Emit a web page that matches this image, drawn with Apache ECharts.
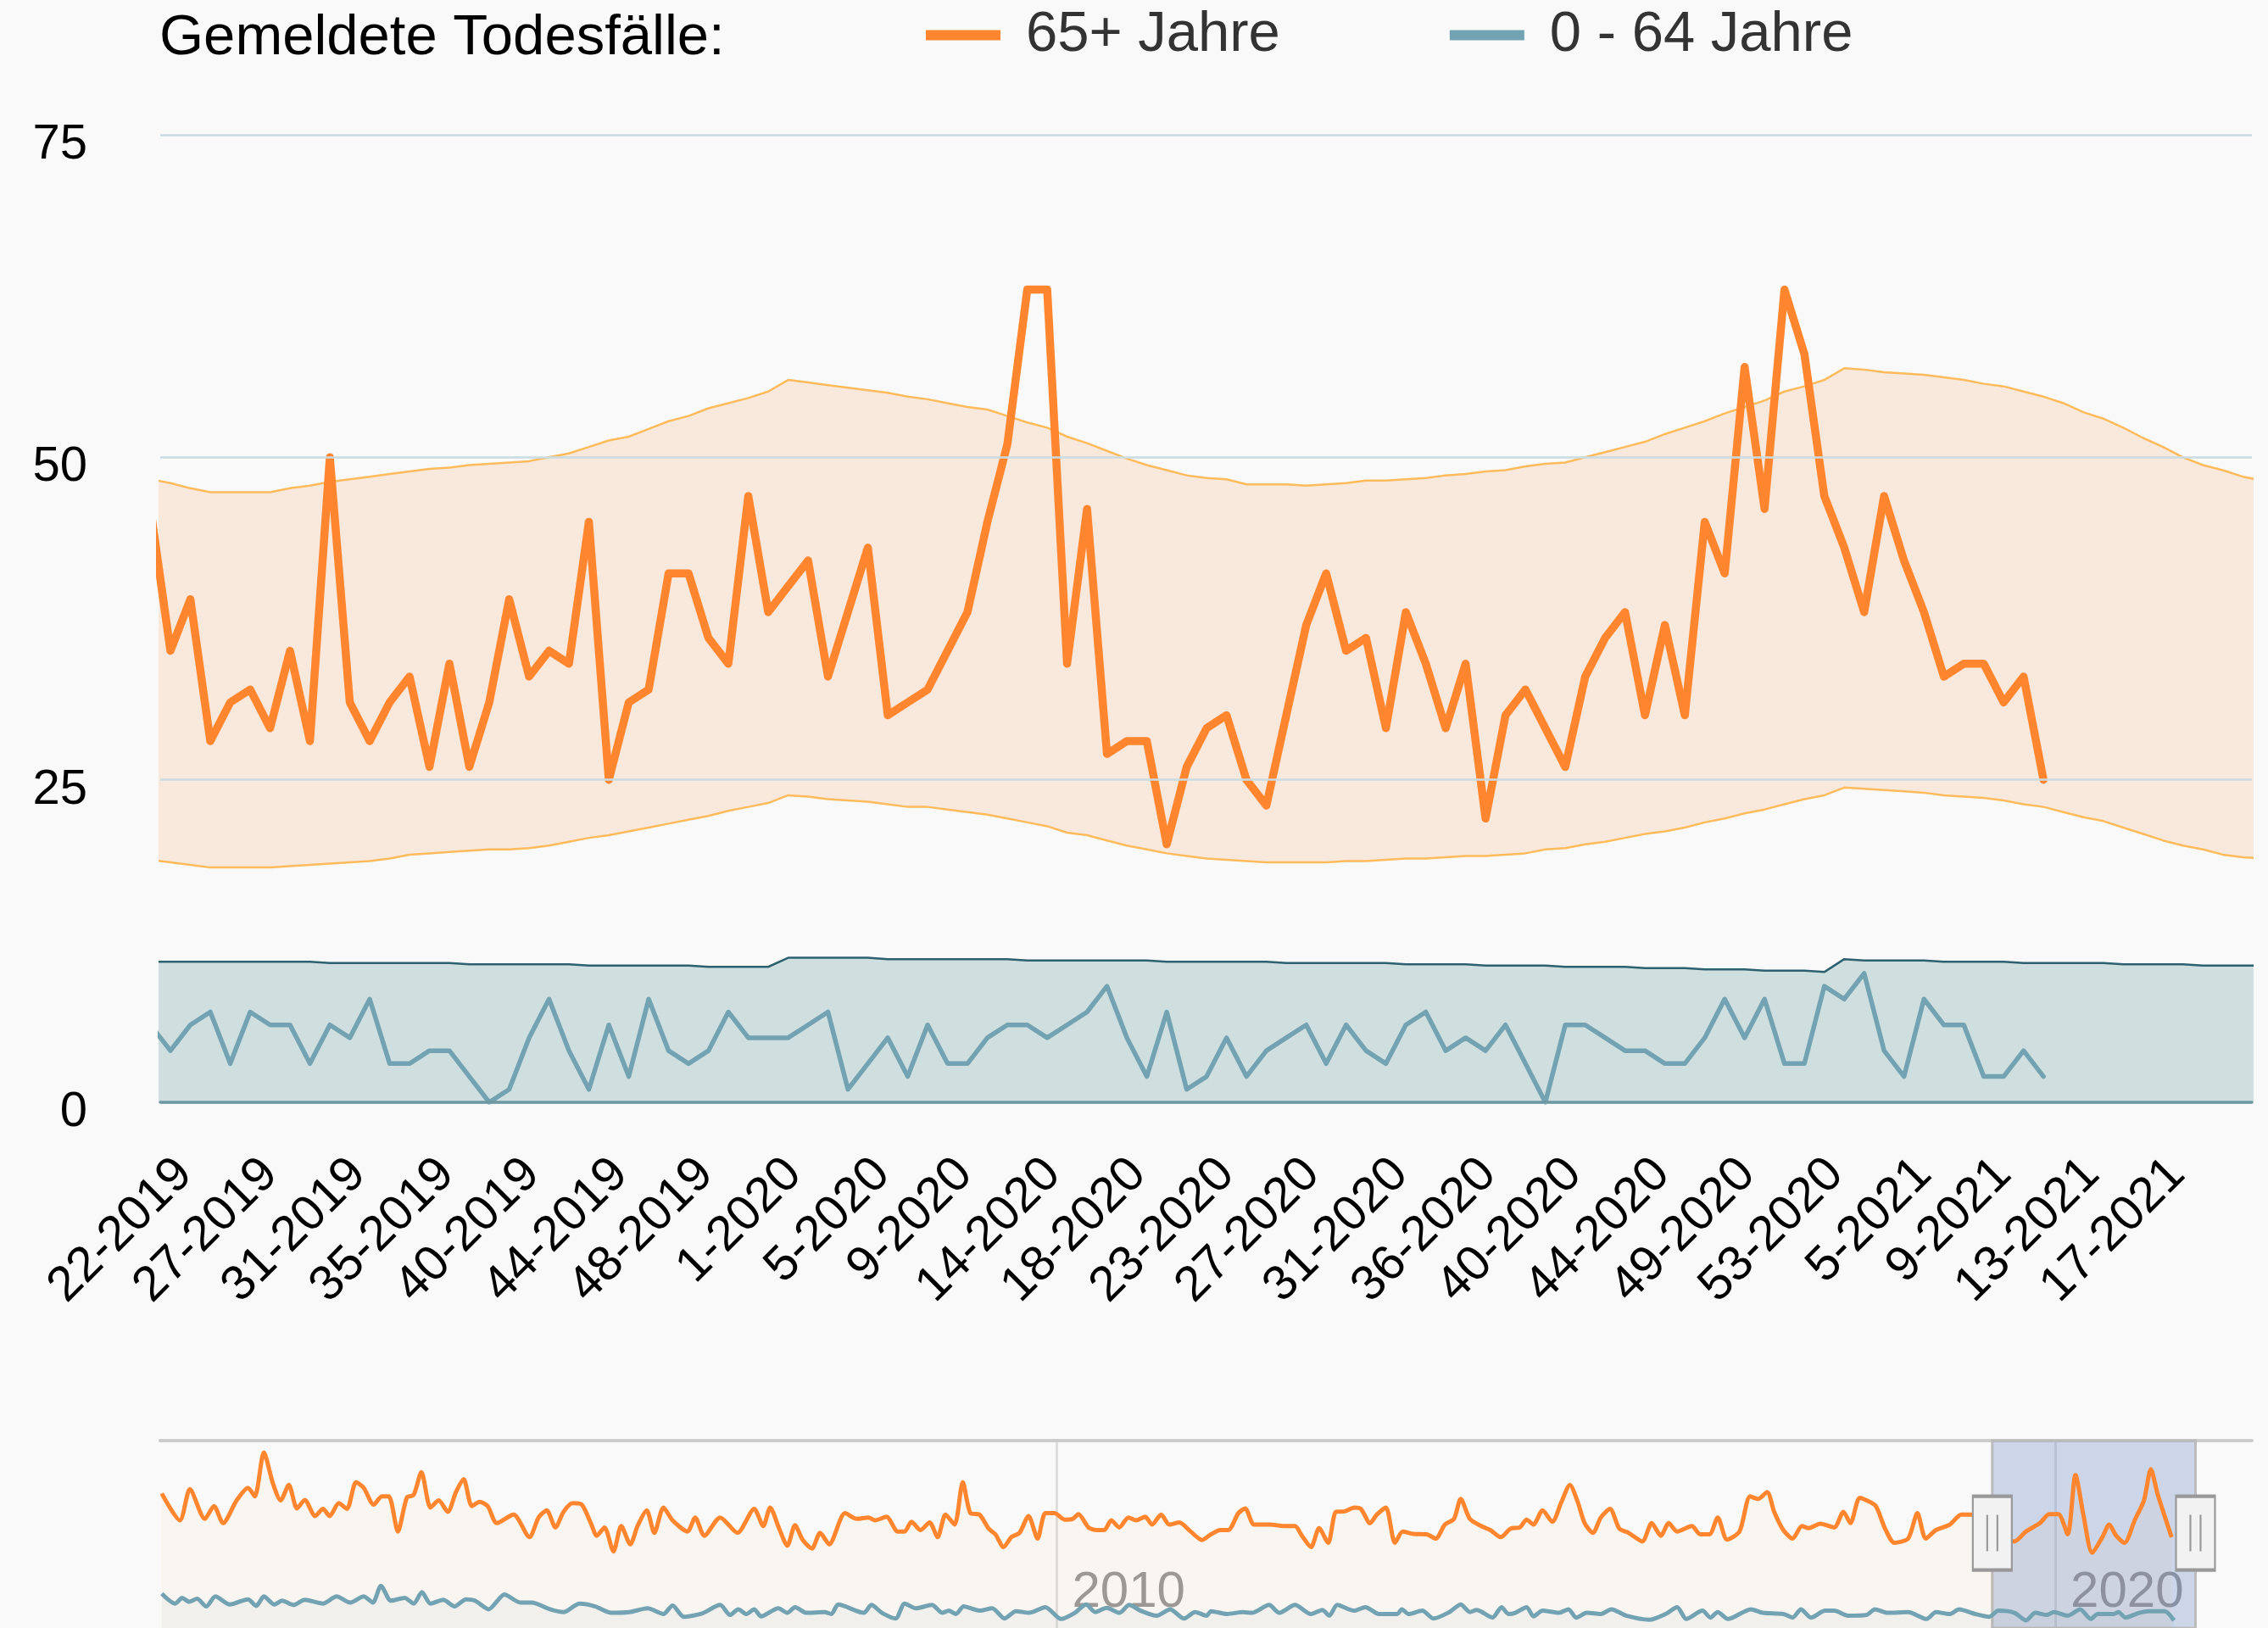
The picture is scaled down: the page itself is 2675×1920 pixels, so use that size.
<!DOCTYPE html>
<html>
<head>
<meta charset="utf-8">
<title>Gemeldete Todesfälle</title>
<script src="https://cdn.jsdelivr.net/npm/echarts@6.0.0/dist/echarts.min.js"></script>
<style>
  html, body { margin: 0; padding: 0; background: #f9f9f9; }
  #chart { width: 2675px; height: 1920px; }
</style>
</head>
<body>
<div id="chart"></div>
<script>
// weekly values, first entry is KW 21-2019 (Monday 2019-05-20)
const firstMonday = [2019, 4, 20]

const deaths65 = [
  46, 35, 39, 28, 31, 32, 29, 35, 28, 50, 31, 28, 31, 33, 26, 34, 26, 31, 39, 33,
  35, 34, 45, 25, 31, 32, 41, 41, 36, 34, 47, 38,
  40, 42, 33, 38, 43, 30, 31, 32, 35, 38, 45, 51, 63, 63, 34, 46, 27, 28, 28, 20,
  26, 29, 30, 25, 23, 30, 37, 41, 35, 36, 29, 38, 34, 29, 34, 22, 30, 32, 29, 26,
  33, 36, 38, 30, 37, 30, 45, 41, 57, 46, 63, 58, 47,
  43, 38, 47, 42, 38, 33, 34, 34, 31, 33, 25
]
const deaths064 = [
  6, 4, 6, 7, 3, 7, 6, 6, 3, 6, 5, 8, 3, 3, 4, 4, 2, 0, 1, 5,
  8, 4, 1, 6, 2, 8, 4, 3, 4, 7, 5, 5,
  5, 6, 7, 1, 3, 5, 2, 6, 3, 3, 5, 6, 6, 5, 6, 7, 9, 5, 2, 7,
  1, 2, 5, 2, 4, 5, 6, 3, 6, 4, 3, 6, 7, 4, 5, 4, 6, 3, 0, 6,
  6, 5, 4, 4, 3, 3, 5, 8, 5, 8, 3, 3, 9,
  8, 10, 4, 2, 8, 6, 6, 2, 2, 4, 2
]

// expected range, KW 21-2019 .. KW 22-2021
const band65Upper = [
  48.3, 48.0, 47.6, 47.3, 47.3, 47.3, 47.3, 47.6, 47.8, 48.1,
  48.3, 48.5, 48.7, 48.9, 49.1, 49.2, 49.4, 49.5, 49.6, 49.7,
  50.0, 50.3, 50.8, 51.3, 51.6, 52.2, 52.8, 53.2, 53.8, 54.2, 54.6, 55.1,
  56.0, 55.8, 55.6, 55.4, 55.2, 55.0, 54.7, 54.5, 54.2, 53.9,
  53.7, 53.2, 52.7, 52.3, 51.6, 51.1, 50.5, 49.9, 49.4, 49.0,
  48.6, 48.4, 48.3, 47.9, 47.9, 47.9, 47.8, 47.9, 48.0, 48.2,
  48.2, 48.3, 48.4, 48.6, 48.7, 48.9, 49.0, 49.3, 49.5, 49.6,
  50.0, 50.4, 50.8, 51.2, 51.8, 52.3, 52.8, 53.4, 53.9, 54.4, 55.1, 55.5, 56.0,
  56.9, 56.8, 56.6, 56.5, 56.4, 56.2, 56.0, 55.7, 55.5, 55.1,
  54.7, 54.2, 53.5, 53.0, 52.3, 51.5, 50.8, 50.0, 49.4, 49.0, 48.5, 48.2
]
const band65Lower = [
  18.8, 18.6, 18.4, 18.2, 18.2, 18.2, 18.2, 18.3, 18.4, 18.5,
  18.6, 18.7, 18.9, 19.2, 19.3, 19.4, 19.5, 19.6, 19.6, 19.7,
  19.9, 20.2, 20.5, 20.7, 21.0, 21.3, 21.6, 21.9, 22.2, 22.6, 22.9, 23.2,
  23.8, 23.7, 23.5, 23.4, 23.3, 23.1, 22.9, 22.9, 22.7, 22.5,
  22.3, 22.0, 21.7, 21.4, 20.9, 20.7, 20.3, 19.9, 19.6, 19.3,
  19.1, 18.9, 18.8, 18.7, 18.6, 18.6, 18.6, 18.6, 18.7, 18.7,
  18.8, 18.9, 18.9, 19.0, 19.1, 19.1, 19.2, 19.3, 19.6, 19.7,
  20.0, 20.2, 20.5, 20.8, 21.0, 21.3, 21.7, 22.0, 22.4, 22.7, 23.1, 23.5, 23.8,
  24.4, 24.3, 24.2, 24.1, 24.0, 23.8, 23.7, 23.6, 23.4, 23.1,
  22.9, 22.5, 22.1, 21.8, 21.3, 20.8, 20.3, 19.9, 19.6, 19.2, 19.0, 18.9
]
const band064Upper = [
  10.9, 10.9, 10.9, 10.9, 10.9, 10.9, 10.9, 10.9, 10.9,
  10.8, 10.8, 10.8, 10.8, 10.8, 10.8, 10.8,
  10.7, 10.7, 10.7, 10.7, 10.7, 10.7,
  10.6, 10.6, 10.6, 10.6, 10.6, 10.6,
  10.5, 10.5, 10.5, 10.5,
  11.2, 11.2, 11.2, 11.2, 11.2,
  11.1, 11.1, 11.1, 11.1, 11.1, 11.1, 11.1,
  11.0, 11.0, 11.0, 11.0, 11.0, 11.0, 11.0,
  10.9, 10.9, 10.9, 10.9, 10.9, 10.9,
  10.8, 10.8, 10.8, 10.8, 10.8, 10.8,
  10.7, 10.7, 10.7, 10.7,
  10.6, 10.6, 10.6, 10.6,
  10.5, 10.5, 10.5, 10.5,
  10.4, 10.4, 10.4,
  10.3, 10.3, 10.3,
  10.2, 10.2, 10.2,
  10.1,
  11.1, 11.0, 11.0, 11.0, 11.0,
  10.9, 10.9, 10.9, 10.9,
  10.8, 10.8, 10.8, 10.8, 10.8,
  10.7, 10.7, 10.7, 10.7,
  10.6, 10.6, 10.6, 10.6
]

// month starts used as axis ticks (label = KW-Jahr of that day)
const monthTicks = [
  '2019-06', '2019-07', '2019-08', '2019-09', '2019-10', '2019-11', '2019-12',
  '2020-01', '2020-02', '2020-03', '2020-04', '2020-05', '2020-06', '2020-07',
  '2020-08', '2020-09', '2020-10', '2020-11', '2020-12',
  '2021-01', '2021-02', '2021-03', '2021-04', '2021-05'
]

// overview strip at the bottom: [year, value]
const nav65 = [
  [2001.035, 54.7], [2001.217, 43.4], [2001.317, 56.5], [2001.467, 44.0], [2001.558, 49.4], [2001.649, 42.2],
  [2001.785, 51.8], [2001.899, 57.1], [2001.967, 53.5], [2002.058, 72.0], [2002.149, 58.9], [2002.226, 51.8],
  [2002.308, 58.3], [2002.39, 48.4], [2002.467, 52.0], [2002.572, 45.2], [2002.649, 48.2], [2002.717, 45.2],
  [2002.808, 50.6], [2002.89, 48.2], [2002.981, 59.5], [2003.058, 57.1], [2003.158, 50.0], [2003.24, 53.5],
  [2003.309, 53.5], [2003.4, 38.7], [2003.49, 53.0], [2003.558, 54.1], [2003.636, 63.7], [2003.727, 48.8],
  [2003.809, 51.8], [2003.9, 47.0], [2003.982, 55.3], [2004.059, 60.7], [2004.141, 49.4], [2004.218, 51.2],
  [2004.3, 49.4], [2004.391, 42.2], [2004.559, 45.8], [2004.718, 36.3], [2004.81, 44.6], [2004.891, 47.6],
  [2004.978, 40.4], [2005.06, 47.0], [2005.15, 50.6], [2005.242, 50.0], [2005.333, 42.2], [2005.392, 36.9],
  [2005.469, 40.4], [2005.56, 30.3], [2005.637, 41.0], [2005.728, 33.3], [2005.801, 41.0], [2005.892, 47.6],
  [2005.969, 38.1], [2006.06, 48.8], [2006.151, 43.4], [2006.301, 38.7], [2006.378, 44.6], [2006.469, 36.9],
  [2006.628, 44.6], [2006.801, 38.1], [2006.969, 48.2], [2007.06, 41.0], [2007.129, 48.8], [2007.219, 39.9],
  [2007.301, 32.7], [2007.378, 41.3], [2007.456, 35.1], [2007.547, 31.5], [2007.629, 38.1], [2007.72, 33.3],
  [2007.879, 46.4], [2007.998, 44.0], [2008.112, 44.6], [2008.18, 43.4], [2008.294, 44.9], [2008.407, 38.7],
  [2008.476, 38.7], [2008.544, 42.8], [2008.635, 39.3], [2008.726, 42.5], [2008.807, 36.3], [2008.885, 45.8],
  [2008.976, 41.6], [2009.058, 59.5], [2009.135, 46.4], [2009.226, 45.8], [2009.317, 39.9], [2009.385, 37.5],
  [2009.467, 32.1], [2009.544, 36.3], [2009.626, 38.1], [2009.717, 45.2], [2009.808, 35.7], [2009.885, 46.4],
  [2009.976, 46.4], [2010.08, 43.7], [2010.158, 44.0], [2010.217, 46.0], [2010.317, 40.4], [2010.399, 39.3],
  [2010.476, 39.3], [2010.545, 43.4], [2010.626, 40.4], [2010.717, 44.6], [2010.795, 43.4], [2010.886, 44.9],
  [2010.954, 41.6], [2011.045, 45.8], [2011.127, 41.6], [2011.227, 42.5], [2011.34, 38.7], [2011.454, 35.1],
  [2011.545, 37.5], [2011.636, 39.3], [2011.718, 39.3], [2011.818, 46.4], [2011.886, 48.4], [2011.977, 41.6],
  [2012.136, 41.6], [2012.273, 41.0], [2012.386, 41.0], [2012.455, 36.9], [2012.546, 32.1], [2012.627, 40.1],
  [2012.718, 33.9], [2012.796, 47.0], [2012.887, 47.2], [2012.978, 48.8], [2013.046, 48.2], [2013.137, 42.2],
  [2013.205, 45.8], [2013.296, 48.8], [2013.387, 33.9], [2013.464, 38.7], [2013.569, 37.7], [2013.705, 37.5],
  [2013.796, 35.7], [2013.887, 41.6], [2013.978, 44.0], [2014.046, 52.4], [2014.137, 44.0], [2014.25, 41.0],
  [2014.342, 39.3], [2014.446, 36.3], [2014.546, 39.9], [2014.637, 40.4], [2014.705, 43.7], [2014.774, 41.6],
  [2014.865, 47.6], [2014.963, 42.8], [2015.055, 51.2], [2015.139, 58.3], [2015.217, 51.2], [2015.287, 42.2],
  [2015.37, 38.1], [2015.449, 44.6], [2015.541, 48.2], [2015.634, 39.9], [2015.727, 38.1], [2015.865, 34.5],
  [2015.958, 42.2], [2016.05, 36.9], [2016.129, 42.2], [2016.213, 38.7], [2016.361, 41.0], [2016.444, 37.5],
  [2016.537, 37.5], [2016.62, 44.6], [2016.713, 35.3], [2016.838, 38.7], [2016.944, 53.5], [2017.023, 52.4],
  [2017.115, 55.3], [2017.185, 47.0], [2017.277, 39.3], [2017.37, 35.7], [2017.463, 41.0], [2017.532, 40.1],
  [2017.648, 42.0], [2017.787, 40.4], [2017.879, 47.0], [2017.949, 42.2], [2018.041, 52.9], [2018.111, 51.8],
  [2018.203, 49.4], [2018.296, 39.9], [2018.389, 33.9], [2018.527, 35.7], [2018.62, 46.4], [2018.703, 35.7],
  [2018.805, 39.3], [2018.944, 41.6], [2019.06, 45.8], [2019.153, 45.8], [2019.38, 40.0], [2019.592, 34.5],
  [2019.708, 38.7], [2019.847, 42.2], [2019.94, 46.0], [2020.032, 46.0], [2020.125, 37.5], [2020.203, 62.5],
  [2020.287, 44.6], [2020.37, 29.7], [2020.472, 36.3], [2020.541, 41.6], [2020.611, 36.9], [2020.694, 33.9],
  [2020.796, 43.4], [2020.889, 51.8], [2020.958, 64.9], [2021.028, 54.1], [2021.166, 36.3]
]
const nav064 = [
  [2001.035, 12.5], [2001.17, 8.3], [2001.24, 10.7], [2001.308, 9.1], [2001.39, 10.3], [2001.481, 7.1],
  [2001.572, 11.3], [2001.717, 7.9], [2001.899, 10.1], [2001.981, 7.3], [2002.058, 11.3], [2002.163, 7.9],
  [2002.24, 9.5], [2002.354, 7.7], [2002.467, 9.9], [2002.649, 8.3], [2002.786, 11.3], [2002.922, 8.7],
  [2003.058, 11.3], [2003.149, 8.7], [2003.231, 15.8], [2003.331, 9.5], [2003.468, 10.7], [2003.558, 8.3],
  [2003.641, 13.1], [2003.727, 8.3], [2003.855, 9.9], [2003.968, 7.1], [2004.082, 10.1], [2004.173, 9.5],
  [2004.309, 5.9], [2004.468, 12.1], [2004.627, 8.7], [2004.741, 8.7], [2004.923, 5.9], [2005.06, 4.7],
  [2005.219, 8.3], [2005.378, 7.1], [2005.537, 4.4], [2005.719, 4.7], [2005.901, 6.3], [2006.06, 3.9],
  [2006.151, 7.5], [2006.265, 2.7], [2006.447, 4.1], [2006.628, 7.7], [2006.728, 3.5], [2006.81, 5.9],
  [2006.891, 3.9], [2006.969, 5.9], [2007.038, 2.9], [2007.21, 6.3], [2007.301, 4.4], [2007.378, 6.8],
  [2007.492, 4.4], [2007.674, 4.7], [2007.742, 3.9], [2007.811, 7.9], [2008.066, 4.4], [2008.144, 7.7],
  [2008.248, 4.4], [2008.385, 2.0], [2008.476, 8.3], [2008.589, 6.3], [2008.748, 7.7], [2008.853, 4.4],
  [2008.917, 5.3], [2008.99, 3.9], [2009.067, 7.1], [2009.226, 5.3], [2009.353, 6.3], [2009.476, 2.0],
  [2009.59, 5.1], [2009.726, 4.4], [2009.885, 6.8], [2010.044, 1.8], [2010.181, 4.4], [2010.294, 7.9],
  [2010.385, 4.7], [2010.499, 6.5], [2010.626, 4.4], [2010.726, 7.7], [2010.84, 5.3], [2011.0, 3.2],
  [2011.136, 5.9], [2011.272, 2.0], [2011.386, 4.7], [2011.5, 3.2], [2011.545, 5.1], [2011.704, 3.9],
  [2011.863, 4.7], [2011.954, 4.4], [2012.127, 7.7], [2012.227, 4.4], [2012.386, 7.7], [2012.546, 3.9],
  [2012.66, 5.6], [2012.729, 3.2], [2012.809, 7.7], [2012.977, 5.3], [2013.091, 6.8], [2013.227, 3.9],
  [2013.41, 3.9], [2013.455, 5.9], [2013.523, 3.9], [2013.66, 5.3], [2013.774, 2.0], [2013.932, 4.7],
  [2014.046, 7.9], [2014.137, 4.7], [2014.205, 5.6], [2014.364, 2.4], [2014.455, 6.8], [2014.524, 3.9],
  [2014.592, 4.4], [2014.706, 6.8], [2014.774, 2.9], [2014.865, 5.3], [2015.032, 4.4], [2015.125, 5.9],
  [2015.203, 2.4], [2015.31, 4.4], [2015.449, 3.9], [2015.555, 5.9], [2015.703, 3.2], [2015.935, 1.5],
  [2016.097, 3.9], [2016.213, 6.8], [2016.305, 1.8], [2016.467, 5.3], [2016.546, 2.4], [2016.62, 4.7],
  [2016.722, 1.8], [2016.953, 5.9], [2017.069, 4.4], [2017.277, 3.9], [2017.37, 2.4], [2017.453, 5.9],
  [2017.555, 2.4], [2017.694, 5.3], [2017.787, 5.3], [2017.926, 3.2], [2018.111, 3.5], [2018.194, 5.9],
  [2018.319, 4.4], [2018.527, 4.7], [2018.713, 1.8], [2018.805, 4.7], [2018.944, 3.9], [2019.037, 5.9],
  [2019.199, 3.9], [2019.338, 2.7], [2019.43, 5.3], [2019.592, 4.4], [2019.708, 1.2], [2019.801, 4.4],
  [2019.917, 3.5], [2019.986, 4.7], [2020.125, 3.2], [2020.25, 5.9], [2020.356, 1.8], [2020.426, 3.9],
  [2020.588, 3.9], [2020.634, 4.7], [2020.703, 2.4], [2020.842, 4.4], [2020.935, 5.1], [2021.097, 5.1],
  [2021.19, 1.2]
]
const navYears = [2010, 2020]
const navWindow = [2019.37, 2021.405]

const FONT = '"Liberation Sans", Arial, Helvetica, sans-serif'
const BG = '#f9f9f9'
const DAY = 86400000

// date of the i-th week (Monday)
function weekDate(i) {
  return new Date(firstMonday[0], firstMonday[1], firstMonday[2] + 7 * i).getTime()
}
// ISO week label "KW-Jahr"
function isoWeekLabel(ts) {
  const d = new Date(ts)
  const wd = (d.getDay() + 6) % 7
  const thu = new Date(d.getFullYear(), d.getMonth(), d.getDate() - wd + 3)
  const yr = thu.getFullYear()
  const jan4 = new Date(yr, 0, 4)
  const firstThu = new Date(yr, 0, 4 - ((jan4.getDay() + 6) % 7) + 3)
  const wk = 1 + Math.round((thu - firstThu) / (7 * DAY))
  return wk + '-' + yr
}

const toPairs = arr => arr.map((v, i) => [weekDate(i), v])
const tickValues = monthTicks.map(s => {
  const p = s.split('-')
  return new Date(+p[0], +p[1] - 1, 1).getTime()
})

const chart = echarts.init(document.getElementById('chart'))

const option = {
  backgroundColor: BG,
  animation: false,
  textStyle: { fontFamily: FONT },
  title: {
    text: 'Gemeldete Todesfälle:',
    left: 188,
    top: 12,
    padding: 0,
    textStyle: { fontFamily: FONT, fontSize: 67, fontWeight: 'normal', color: '#000' }
  },
  legend: {
    data: ['65+ Jahre', '0 - 64 Jahre'],
    left: 1092,
    top: 8,
    padding: 0,
    icon: 'rect',
    itemWidth: 88,
    itemHeight: 12,
    itemGap: 200,
    textStyle: { fontFamily: FONT, fontSize: 67, color: '#333', padding: [0, 0, 0, 25] }
  },
  // hide the bits of line that ECharts lets run past the plot edges
  graphic: [
    { type: 'rect', z: 3, silent: true, shape: { x: 0, y: 140, width: 188, height: 1158 }, style: { fill: BG } },
    { type: 'rect', z: 3, silent: true, shape: { x: 2657, y: 140, width: 18, height: 1158 }, style: { fill: BG } }
  ],
  grid: [
    { left: 189, right: 19, top: 159, bottom: 620 },
    { left: 189, right: 19, top: 1699, bottom: 0 }
  ],
  xAxis: [
    {
      // timestamps on a plain value axis so the ticks can sit on month starts
      type: 'value',
      gridIndex: 0,
      min: new Date(2019, 4, 23, 10).getTime(),
      max: new Date(2021, 4, 27, 5).getTime(),
      z: 10,
      axisLine: { show: true, onZero: false, lineStyle: { color: '#6e97a4', width: 3.5 } },
      axisTick: { show: false, customValues: tickValues },
      splitLine: { show: false },
      axisLabel: {
        customValues: tickValues,
        formatter: v => isoWeekLabel(v),
        rotate: 45,
        margin: 76,
        fontSize: 58,
        color: '#000',
        fontFamily: FONT,
        hideOverlap: false
      }
    },
    {
      type: 'value',
      gridIndex: 1,
      min: 2001.02,
      max: 2021.97,
      axisLine: { show: false },
      axisTick: { show: false, customValues: navYears },
      splitLine: { show: true, lineStyle: { color: '#dedede', width: 3 } },
      axisLabel: {
        customValues: navYears,
        formatter: v => String(v),
        inside: true,
        margin: 12,
        align: 'left',
        padding: [0, 0, 0, 18],
        fontSize: 60,
        color: '#999',
        fontFamily: FONT
      }
    },
    {
      type: 'value',
      gridIndex: 1,
      position: 'top',
      min: 2001.02,
      max: 2021.97,
      axisLine: { show: true, lineStyle: { color: '#cccccc', width: 4 } },
      axisTick: { show: false },
      axisLabel: { show: false },
      splitLine: { show: false }
    }
  ],
  yAxis: [
    {
      type: 'value',
      gridIndex: 0,
      min: 0,
      max: 75,
      interval: 25,
      z: 10,
      axisLine: { show: false },
      axisTick: { show: false },
      axisLabel: {
        margin: 86,
        formatter: '{v|{value}}',
        rich: { v: { fontSize: 58, color: '#000', fontFamily: FONT, padding: [24, 0, 0, 0] } }
      },
      splitLine: { lineStyle: { color: '#c9dbe3', width: 2.5 } }
    },
    { type: 'value', gridIndex: 1, min: -2, max: 77, show: false }
  ],
  series: [
    {
      // upper edge of the expected range, tinted down to the axis
      name: 'band65-high',
      type: 'line',
      data: toPairs(band65Upper),
      symbol: 'none',
      lineStyle: { color: '#ffbb5c', width: 2.5 },
      areaStyle: { color: 'rgba(255, 128, 40, 0.13)', opacity: 1 },
      silent: true
    },
    {
      // lower edge: paints the background back in below the range
      name: 'band65-low',
      type: 'line',
      data: toPairs(band65Lower),
      symbol: 'none',
      lineStyle: { color: '#ffbb5c', width: 2.5 },
      areaStyle: { color: BG, opacity: 1 },
      silent: true
    },
    {
      name: 'band064',
      type: 'line',
      data: toPairs(band064Upper),
      symbol: 'none',
      lineStyle: { color: '#2d6170', width: 2.5 },
      areaStyle: { color: '#cfdede', opacity: 1 },
      silent: true
    },
    {
      name: '0 - 64 Jahre',
      type: 'line',
      data: toPairs(deaths064),
      symbol: 'none',
      color: '#73a3b3',
      lineStyle: { color: '#73a3b3', width: 5.5, cap: 'round', join: 'round' }
    },
    {
      name: '65+ Jahre',
      type: 'line',
      data: toPairs(deaths65),
      symbol: 'none',
      color: '#ff862e',
      lineStyle: { color: '#ff862e', width: 9.5, cap: 'round', join: 'round' }
    },
    {
      name: 'nav65',
      type: 'line',
      xAxisIndex: 1,
      yAxisIndex: 1,
      data: nav65,
      symbol: 'none',
      smooth: 0.25,
      lineStyle: { color: '#ff862e', width: 5 },
      areaStyle: { color: 'rgba(255, 128, 40, 0.05)', origin: 'start' },
      silent: true
    },
    {
      name: 'nav064',
      type: 'line',
      xAxisIndex: 1,
      yAxisIndex: 1,
      data: nav064,
      symbol: 'none',
      smooth: 0.25,
      lineStyle: { color: '#73a3b3', width: 5 },
      areaStyle: { color: 'rgba(114, 163, 179, 0.08)', origin: 'start' },
      silent: true,
      markArea: {
        silent: true,
        itemStyle: { color: 'rgba(102, 133, 194, 0.3)', borderColor: '#bbbbbb', borderWidth: 3 },
        data: [[{ xAxis: navWindow[0] }, { xAxis: navWindow[1] }]]
      },
      markPoint: {
        silent: true,
        symbol: 'path://M0,0L46,0L46,87L0,87Z M17,22L17,65 M29,22L29,65',
        symbolSize: [46, 87],
        itemStyle: { color: '#f2f2f2', borderColor: '#999999', borderWidth: 3 },
        label: { show: false },
        data: [
          { coord: [navWindow[0], 38] },
          { coord: [navWindow[1], 38] }
        ]
      }
    }
  ]
}

chart.setOption(option)
</script>
</body>
</html>
